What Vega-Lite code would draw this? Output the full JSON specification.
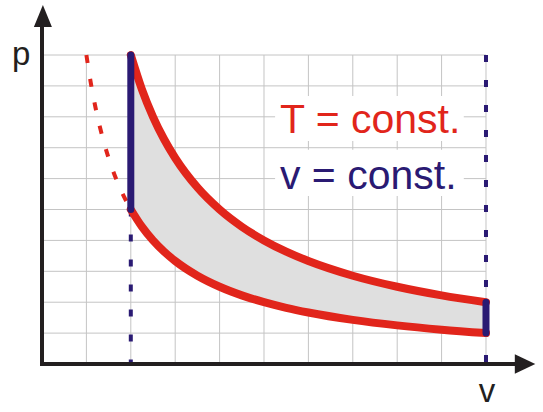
{
  "$schema": "https://vega.github.io/schema/vega-lite/v6.json",
  "width": 543,
  "height": 412,
  "autosize": {"type": "fit", "contains": "padding"},
  "padding": 0,
  "background": "white",
  "config": {"view": {"stroke": null}},
  "datasets": {
    "vgrid": [
      {"v": 1, "p": 0, "p2": 10}, {"v": 2, "p": 0, "p2": 10}, {"v": 3, "p": 0, "p2": 10},
      {"v": 4, "p": 0, "p2": 10}, {"v": 5, "p": 0, "p2": 10}, {"v": 6, "p": 0, "p2": 10},
      {"v": 7, "p": 0, "p2": 10}, {"v": 8, "p": 0, "p2": 10}, {"v": 9, "p": 0, "p2": 10},
      {"v": 10, "p": 0, "p2": 10}
    ],
    "hgrid": [
      {"v": 0, "v2": 10, "p": 1}, {"v": 0, "v2": 10, "p": 2}, {"v": 0, "v2": 10, "p": 3},
      {"v": 0, "v2": 10, "p": 4}, {"v": 0, "v2": 10, "p": 5}, {"v": 0, "v2": 10, "p": 6},
      {"v": 0, "v2": 10, "p": 7}, {"v": 0, "v2": 10, "p": 8}, {"v": 0, "v2": 10, "p": 9},
      {"v": 0, "v2": 10, "p": 10}
    ],
    "boxes": [
      {"v": 5.25, "v2": 9.5, "p": 8.67, "p2": 7.22},
      {"v": 5.25, "v2": 9.5, "p": 6.93, "p2": 5.44}
    ],
    "cycle": [
      {"v": 2, "p": 10, "p2": 5},
      {"v": 2.25, "p": 8.889, "p2": 4.444},
      {"v": 2.5, "p": 8, "p2": 4},
      {"v": 2.75, "p": 7.273, "p2": 3.636},
      {"v": 3, "p": 6.667, "p2": 3.333},
      {"v": 3.5, "p": 5.714, "p2": 2.857},
      {"v": 4, "p": 5, "p2": 2.5},
      {"v": 4.5, "p": 4.444, "p2": 2.222},
      {"v": 5, "p": 4, "p2": 2},
      {"v": 5.5, "p": 3.636, "p2": 1.818},
      {"v": 6, "p": 3.333, "p2": 1.667},
      {"v": 7, "p": 2.857, "p2": 1.429},
      {"v": 8, "p": 2.5, "p2": 1.25},
      {"v": 9, "p": 2.222, "p2": 1.111},
      {"v": 10, "p": 2, "p2": 1}
    ],
    "extension": [
      {"v": 1, "p": 10},
      {"v": 1.1, "p": 9.091},
      {"v": 1.2, "p": 8.333},
      {"v": 1.3, "p": 7.692},
      {"v": 1.4, "p": 7.143},
      {"v": 1.5, "p": 6.667},
      {"v": 1.6, "p": 6.25},
      {"v": 1.8, "p": 5.556},
      {"v": 2, "p": 5}
    ],
    "isoDashed": [
      {"v": 2, "p": 5, "p2": 0},
      {"v": 10, "p": 10, "p2": 0}
    ],
    "isoSolid": [
      {"v": 2, "p": 5, "p2": 10},
      {"v": 10, "p": 1, "p2": 2}
    ]
  },
  "encoding": {
    "x": {"field": "v", "type": "quantitative", "axis": null,
          "scale": {"domain": [-0.946, 11.284], "nice": false, "zero": false}},
    "y": {"field": "p", "type": "quantitative", "axis": null,
          "scale": {"domain": [-1.553, 11.78], "nice": false, "zero": false}}
  },
  "layer": [
    {
      "data": {"name": "vgrid"},
      "mark": {"type": "rule", "color": "#c4c4c4", "strokeWidth": 1},
      "encoding": {"y2": {"field": "p2"}}
    },
    {
      "data": {"name": "hgrid"},
      "mark": {"type": "rule", "color": "#c4c4c4", "strokeWidth": 1},
      "encoding": {"x2": {"field": "v2"}}
    },
    {
      "data": {"name": "boxes"},
      "mark": {"type": "rect", "color": "white"},
      "encoding": {"x2": {"field": "v2"}, "y2": {"field": "p2"}}
    },
    {
      "data": {"name": "cycle"},
      "mark": {"type": "area", "color": "#dfdfdf", "opacity": 1, "interpolate": "monotone"},
      "encoding": {"y2": {"field": "p2"}}
    },
    {
      "data": {"name": "isoDashed"},
      "mark": {"type": "rule", "color": "#2a1a73", "strokeWidth": 4, "strokeDash": [7, 18]},
      "encoding": {"y2": {"field": "p2"}}
    },
    {
      "data": {"name": "extension"},
      "mark": {"type": "line", "color": "#e1251b", "strokeWidth": 4, "strokeDash": [8, 16], "interpolate": "monotone"},
      "encoding": {}
    },
    {
      "data": {"name": "cycle"},
      "mark": {"type": "line", "color": "#e1251b", "strokeWidth": 8, "strokeCap": "round", "interpolate": "monotone"},
      "encoding": {}
    },
    {
      "data": {"name": "cycle"},
      "mark": {"type": "line", "color": "#e1251b", "strokeWidth": 8, "strokeCap": "round", "interpolate": "monotone"},
      "encoding": {
        "y": {"field": "p2", "type": "quantitative", "axis": null,
              "scale": {"domain": [-1.553, 11.78], "nice": false, "zero": false}}
      }
    },
    {
      "data": {"name": "isoSolid"},
      "mark": {"type": "rule", "color": "#2a1a73", "strokeWidth": 7, "strokeCap": "round"},
      "encoding": {"y2": {"field": "p2"}}
    },
    {
      "data": {"values": [{"v": -0.045, "v2": 10.7, "p": 0}]},
      "mark": {"type": "rule", "color": "#231f20", "strokeWidth": 4},
      "encoding": {"x2": {"field": "v2"}}
    },
    {
      "data": {"values": [{"v": 0, "p": -0.065, "p2": 10.95}]},
      "mark": {"type": "rule", "color": "#231f20", "strokeWidth": 4},
      "encoding": {"y2": {"field": "p2"}}
    },
    {
      "data": {"values": [{"v": 0.02, "p": 11.26}]},
      "mark": {"type": "point", "shape": "M0,-1L0.82,1L-0.82,1Z", "size": 484, "filled": true, "color": "#231f20", "opacity": 1, "strokeWidth": 0}
    },
    {
      "data": {"values": [{"v": 10.88, "p": 0}]},
      "mark": {"type": "point", "shape": "M1,0L-1,0.95L-1,-0.95Z", "size": 420, "filled": true, "color": "#231f20", "opacity": 1, "strokeWidth": 0}
    },
    {
      "data": {"values": [{"v": 5.36, "p": 7.48, "label": "T = const."}]},
      "mark": {"type": "text", "align": "left", "baseline": "alphabetic", "font": "Liberation Sans", "fontSize": 41, "color": "#e1251b"},
      "encoding": {"text": {"field": "label"}}
    },
    {
      "data": {"values": [{"v": 5.36, "p": 5.66, "label": "v = const."}]},
      "mark": {"type": "text", "align": "left", "baseline": "alphabetic", "font": "Liberation Sans", "fontSize": 41, "color": "#2a1a73"},
      "encoding": {"text": {"field": "label"}}
    },
    {
      "data": {"values": [{"v": -0.47, "p": 9.68, "label": "p"}, {"v": 10.02, "p": -1.23, "label": "v"}]},
      "mark": {"type": "text", "align": "center", "baseline": "alphabetic", "font": "Liberation Sans", "fontSize": 33, "color": "#231f20"},
      "encoding": {"text": {"field": "label"}}
    }
  ]
}
